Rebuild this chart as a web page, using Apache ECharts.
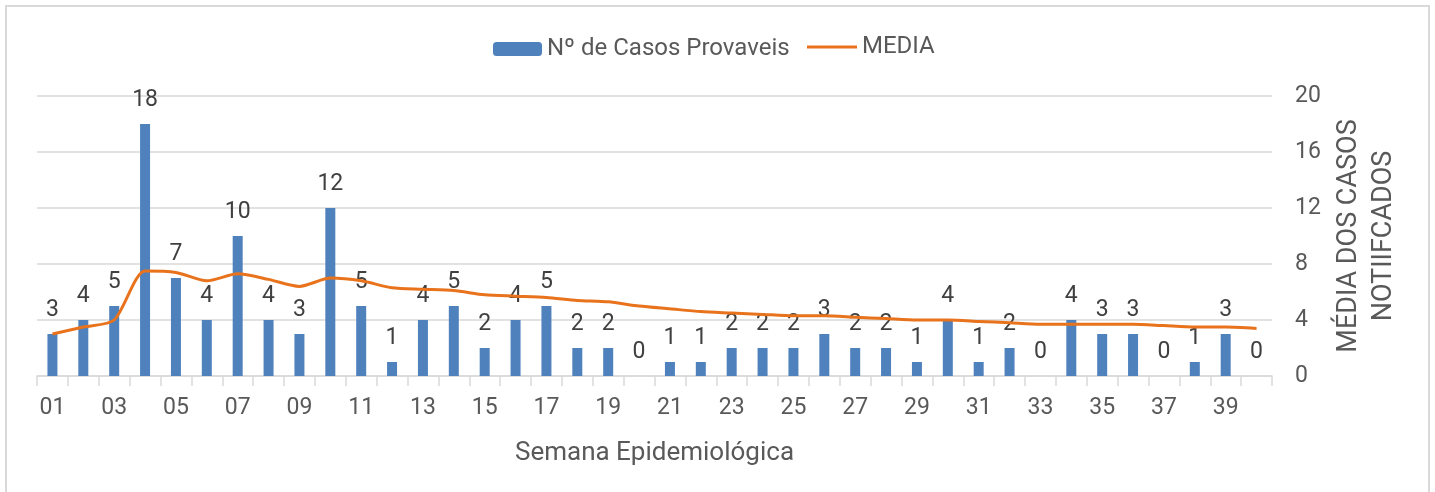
<!DOCTYPE html>
<html>
<head>
<meta charset="utf-8">
<script src="https://cdn.jsdelivr.net/npm/echarts@6/dist/echarts.min.js"></script>
<style>
html,body{margin:0;padding:0;background:#fff;}
#chart{width:1435px;height:492px;}
</style>
</head>
<body>
<div id="chart"></div>
<script>
const weeks = ['01','02','03','04','05','06','07','08','09','10','11','12','13','14','15','16','17','18','19','20',
               '21','22','23','24','25','26','27','28','29','30','31','32','33','34','35','36','37','38','39','40'];
const casos = [3,4,5,18,7,4,10,4,3,12,5,1,4,5,2,4,5,2,2,0,1,1,2,2,2,3,2,2,1,4,1,2,0,4,3,3,0,1,3,0];
const media = [3.0,3.5,4.0,7.5,7.4,6.8,7.3,6.9,6.4,7.0,6.8,6.3,6.2,6.1,5.8,5.7,5.6,5.4,5.3,5.0,
               4.8,4.6,4.5,4.4,4.3,4.3,4.2,4.1,4.0,4.0,3.9,3.8,3.7,3.7,3.7,3.7,3.6,3.5,3.5,3.4];
const yTicks = {min:0, max:20, interval:4};
const seriesNames = ['Nº de Casos Provaveis','MEDIA'];

const FONT = 'Roboto';
const TXT = '#595959';
const BLUE = '#4f81bd';
const ORANGE = '#e8731c';
const chart = echarts.init(document.getElementById('chart'), null, {renderer:'canvas'});
chart.setOption({
  backgroundColor:'#ffffff',
  animation:false,
  textStyle:{fontFamily:FONT},
  graphic:[{
    type:'rect', shape:{x:6,y:6,width:1423,height:500},
    style:{fill:'none', stroke:'#d9d9d9', lineWidth:2}, silent:true
  }],
  legend:[
    {
      data:[seriesNames[0]],
      top:37, left:493, padding:0,
      itemWidth:49, itemHeight:14,
      textStyle:{fontFamily:FONT, fontSize:24, color:TXT}
    },
    {
      data:[{name:seriesNames[1], icon:'rect'}],
      top:35, left:807, padding:0,
      itemWidth:50, itemHeight:3,
      itemStyle:{color:ORANGE},
      textStyle:{fontFamily:FONT, fontSize:24, color:TXT}
    }
  ],
  grid:{left:37, right:163, top:96, bottom:116, containLabel:false},
  xAxis:{
    type:'category', data:weeks, boundaryGap:true,
    name:'Semana Epidemiológica', nameLocation:'middle', nameGap:64,
    nameTextStyle:{fontFamily:FONT, fontSize:26, color:TXT},
    axisLine:{lineStyle:{color:'#d9d9d9', width:1.5}},
    axisTick:{show:true, interval:0, length:10, lineStyle:{color:'#d9d9d9', width:1.5}},
    axisLabel:{interval:1, fontFamily:FONT, fontSize:23, color:TXT, margin:21}
  },
  yAxis:{
    type:'value', position:'right', min:yTicks.min, max:yTicks.max, interval:yTicks.interval,
    name:'MÉDIA DOS CASOS\nNOTIIFCADOS', nameLocation:'middle', nameGap:56, nameRotate:90,
    nameTextStyle:{fontFamily:FONT, fontSize:27, color:TXT, lineHeight:35},
    axisLine:{show:false}, axisTick:{show:false},
    axisLabel:{fontFamily:FONT, fontSize:23, color:TXT, margin:23},
    splitLine:{lineStyle:{color:'#d9d9d9', width:1.5}}
  },
  series:[
    {
      name:seriesNames[0], type:'bar', data:casos, barWidth:10,
      itemStyle:{color:BLUE},
      label:{show:true, position:'top', distance:12, fontFamily:FONT, fontSize:23, color:'#404040'}
    },
    {
      name:seriesNames[1], type:'line', data:media, symbol:'none', smooth:0.25,
      lineStyle:{color:ORANGE, width:3}, itemStyle:{color:ORANGE}
    }
  ]
});
</script>
</body>
</html>
